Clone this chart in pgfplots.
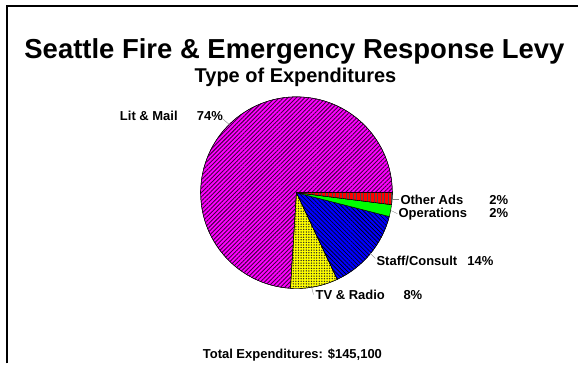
\documentclass[border=0pt]{standalone}
\usepackage{pgfplots}
\pgfplotsset{compat=1.18}
\usepackage{fontspec}
\setmainfont{Liberation Sans}
\usetikzlibrary{patterns.meta}

\definecolor{pmag}{RGB}{255,0,255}
\definecolor{pred}{RGB}{255,0,0}
\definecolor{pgreen}{RGB}{0,255,0}
\definecolor{pblue}{RGB}{0,0,255}
\definecolor{pyel}{RGB}{255,255,0}

% share of spending, percent
% Lit & Mail 74, TV & Radio 8, Staff/Consult 14, Operations 2, Other Ads 2
\newcommand{\lbl}{\fontsize{13}{15}\selectfont\bfseries}

\begin{document}
\begin{tikzpicture}
\begin{axis}[
  scale only axis,
  width=572pt, height=358pt,
  xmin=-290, xmax=282,
  ymin=-171, ymax=187,
  axis line style={draw=none},
  xtick=\empty, ytick=\empty,
  clip=false,
]
% slices drawn clockwise from 3 o'clock, angle = -3.6 * cumulative percent
\addplot[data cs=polar, draw=black, line width=0.4pt, fill=pmag,
  postaction={pattern={Lines[angle=45,distance=3pt,line width=0.9pt]}, pattern color=black!75!pmag}]
  coordinates {(0,0) (-93.6,96)} arc[start angle=-93.6, delta angle=-266.4, radius=96pt] -- cycle;
\addplot[data cs=polar, draw=black, line width=0.4pt, fill=pyel,
  postaction={pattern={Dots[distance=2.6pt,radius=0.75pt]}, pattern color=black!85}]
  coordinates {(0,0) (-64.8,96)} arc[start angle=-64.8, delta angle=-28.8, radius=96pt] -- cycle;
\addplot[data cs=polar, draw=black, line width=0.4pt, fill=pblue,
  postaction={pattern={Lines[angle=-45,distance=3pt,line width=0.6pt]}, pattern color=black}]
  coordinates {(0,0) (-14.4,96)} arc[start angle=-14.4, delta angle=-50.4, radius=96pt] -- cycle;
\addplot[data cs=polar, draw=black, line width=0.4pt, fill=pgreen]
  coordinates {(0,0) (-7.2,96)} arc[start angle=-7.2, delta angle=-7.2, radius=96pt] -- cycle;
\addplot[data cs=polar, draw=black, line width=0.4pt, fill=pred,
  postaction={pattern={Lines[angle=90,distance=3.5pt,line width=0.6pt]}, pattern color=black!70}]
  coordinates {(0,0) (0,96)} arc[start angle=0, delta angle=-7.2, radius=96pt] -- cycle;

% leader lines
\draw[gray] (axis cs:-74,74) -- (axis cs:-67,68);
\draw[gray] (axis cs:96,-7) -- (axis cs:103,-7);
\draw[gray] (axis cs:95,-18) -- (axis cs:101,-21);
\draw[gray] (axis cs:73,-60) -- (axis cs:79,-66);
\draw[gray] (axis cs:15,-94) -- (axis cs:17,-102);

% titles
\node[anchor=base, font=\fontsize{27.5}{31}\selectfont\bfseries] at (axis cs:-2,134)
  {Seattle Fire \& Emergency Response Levy};
\node[anchor=base, font=\fontsize{20}{24}\selectfont\bfseries] at (axis cs:-1,110)
  {Type of Expenditures};

% slice labels
\node[anchor=base west, inner sep=0pt, font=\lbl] at (axis cs:-177,72) {Lit \& Mail};
\node[anchor=base west, inner sep=0pt, font=\lbl] at (axis cs:-100,72) {74\%};
\node[anchor=base west, inner sep=0pt, font=\lbl] at (axis cs:104,-12) {Other Ads};
\node[anchor=base west, inner sep=0pt, font=\lbl] at (axis cs:193,-12) {2\%};
\node[anchor=base west, inner sep=0pt, font=\lbl] at (axis cs:102,-25) {Operations};
\node[anchor=base west, inner sep=0pt, font=\lbl] at (axis cs:193,-25) {2\%};
\node[anchor=base west, inner sep=0pt, font=\lbl] at (axis cs:80,-73) {Staff/Consult};
\node[anchor=base west, inner sep=0pt, font=\lbl] at (axis cs:171,-73) {14\%};
\node[anchor=base west, inner sep=0pt, font=\lbl] at (axis cs:19,-107) {TV \& Radio};
\node[anchor=base west, inner sep=0pt, font=\lbl] at (axis cs:107,-107) {8\%};

\node[anchor=base west, inner sep=0pt, font=\lbl] at (axis cs:-94,-166)
  {Total Expenditures: \$145,100};

% outer frame, cut off at the right and bottom
\draw[line width=2pt] (axis cs:-290,-171) -- (axis cs:-290,187) -- (axis cs:282,187);
% page extent
\path (axis cs:-297,-171) rectangle (axis cs:282,193);
\end{axis}
\end{tikzpicture}
\end{document}
